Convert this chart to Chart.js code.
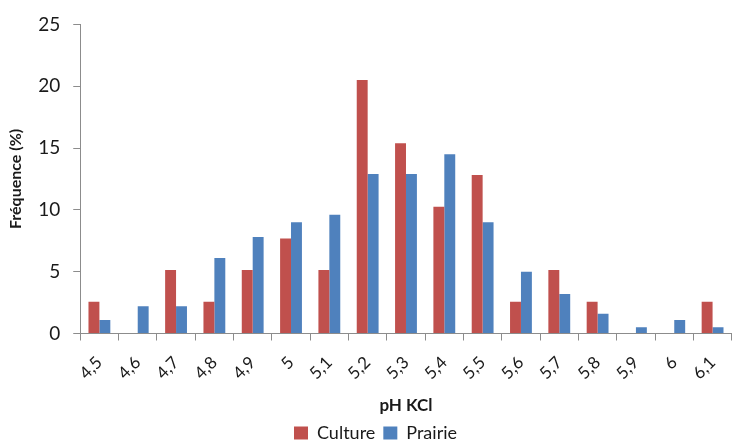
<!DOCTYPE html>
<html>
<head>
<meta charset="utf-8">
<script src="https://cdn.jsdelivr.net/npm/chart.js@4/dist/chart.umd.min.js"></script>
<style>
  html, body { margin: 0; padding: 0; background: #fff; }
  #wrap { position: relative; width: 739px; height: 444px; }
</style>
</head>
<body>
<div id="wrap"><canvas id="c" width="739" height="444"></canvas></div>
<script>
// pH KCl classes
const categories = ['4,5','4,6','4,7','4,8','4,9','5','5,1','5,2','5,3','5,4','5,5','5,6','5,7','5,8','5,9','6','6,1'];
// Frequency (%) per class
const culture = [2.56, 0, 5.13, 2.56, 5.13, 7.69, 5.13, 20.51, 15.38, 10.26, 12.82, 2.56, 5.13, 2.56, 0, 0, 2.56];
const prairie = [1.1, 2.2, 2.2, 6.1, 7.8, 9.0, 9.6, 12.9, 12.9, 14.5, 9.0, 5.0, 3.2, 1.6, 0.5, 1.1, 0.5];
const yTicks = [0, 5, 10, 15, 20, 25];

const axisColor = '#8c8c8c';
const textColor = '#1a1a1a';
const font = 'Lato, "Open Sans", sans-serif';

new Chart(document.getElementById('c'), {
  type: 'bar',
  data: {
    labels: categories,
    datasets: [
      { label: 'Culture', data: culture, backgroundColor: '#C0504D', barPercentage: 1, categoryPercentage: 0.57 },
      { label: 'Prairie', data: prairie, backgroundColor: '#4F81BD', barPercentage: 1, categoryPercentage: 0.57 }
    ]
  },
  options: {
    responsive: false,
    animation: false,
    layout: { padding: { top: 8, right: -6, left: 6, bottom: -8 } },
    plugins: {
      tooltip: { enabled: false },
      legend: {
        position: 'bottom',
        labels: {
          boxWidth: 14, boxHeight: 13, padding: 8,
          color: textColor, font: { family: font, size: 18 }
        }
      }
    },
    scales: {
      x: {
        grid: { offset: true, drawOnChartArea: false, color: axisColor, tickLength: 7 },
        border: { color: axisColor },
        ticks: { minRotation: 45, maxRotation: 45, color: textColor, font: { family: font, size: 17 }, padding: 12 },
        title: { display: true, text: 'pH KCl', color: textColor, font: { family: font, size: 17, weight: 'bold' }, padding: { top: 0, bottom: 0 } }
      },
      y: {
        min: 0, max: 25,
        afterBuildTicks: (scale) => { scale.ticks = yTicks.map(v => ({ value: v })); },
        grid: { drawOnChartArea: false, color: axisColor, tickLength: 7 },
        border: { color: axisColor },
        ticks: { color: textColor, font: { family: font, size: 19 }, padding: 13 },
        title: { display: true, text: 'Fréquence (%)', color: textColor, font: { family: font, size: 16, weight: 'bold' }, padding: { top: 0, bottom: 0 } }
      }
    }
  }
});
</script>
</body>
</html>
